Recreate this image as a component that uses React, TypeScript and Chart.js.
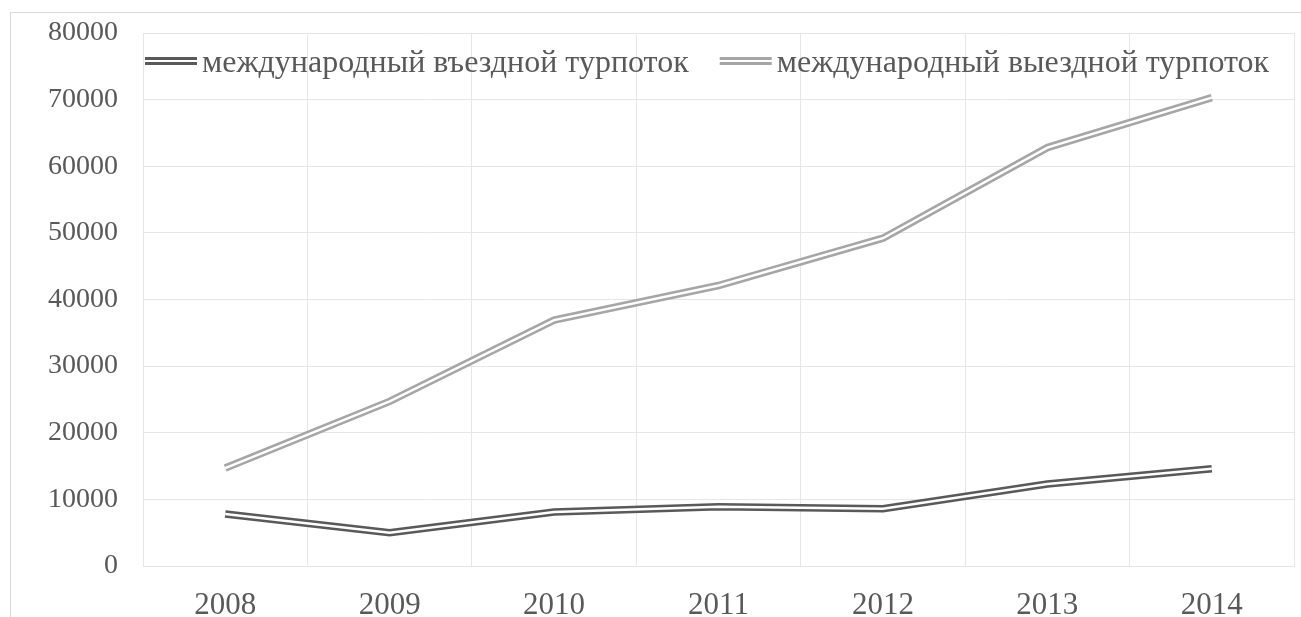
import React, { useEffect, useRef } from 'react';
import { Chart, registerables } from 'chart.js';

Chart.register(...registerables);

const years = ['2008', '2009', '2010', '2011', '2012', '2013', '2014'];
const inboundLabel = 'международный въездной турпоток';
const outboundLabel = 'международный выездной турпоток';
const inbound = [7800, 5000, 8100, 8900, 8600, 12300, 14600];
const outbound = [14700, 24700, 36900, 42100, 49200, 62800, 70300];
const yMin = 0;
const yMax = 80000;
const yStep = 10000;

const DARK = '#595959';
const LIGHT = '#A6A6A6';
const GRID = '#E6E6E6';
const TEXT = '#595959';
const FONT = '"Liberation Serif", "Times New Roman", serif';

const insideLegend = {
  id: 'insideLegend',
  afterDraw(chart: any) {
    const ctx = chart.ctx as CanvasRenderingContext2D;
    const area = chart.chartArea;
    const items = [
      { text: inboundLabel, color: DARK },
      { text: outboundLabel, color: LIGHT },
    ];
    ctx.save();
    ctx.font = `32px ${FONT}`;
    ctx.textBaseline = 'alphabetic';
    ctx.textAlign = 'left';
    let x = area.left + 2;
    const baseY = area.top + 39;
    const swW = 52;
    items.forEach((it) => {
      ctx.fillStyle = it.color;
      ctx.fillRect(x, area.top + 24, swW, 3);
      ctx.fillRect(x, area.top + 29, swW, 3);
      x += swW + 5;
      ctx.fillStyle = TEXT;
      ctx.fillText(it.text, x, baseY);
      x += ctx.measureText(it.text).width + 31;
    });
    ctx.restore();
  },
};

export default function App() {
  const ref = useRef<HTMLCanvasElement | null>(null);

  useEffect(() => {
    if (!ref.current) return;
    const chart = new Chart(ref.current, {
      type: 'line',
      data: {
        labels: years,
        datasets: [
          { label: inboundLabel, data: inbound, borderColor: DARK, borderWidth: 7.5, pointRadius: 0, tension: 0, order: 2 },
          { label: 'gap-in', data: inbound, borderColor: '#FFFFFF', borderWidth: 2.4, pointRadius: 0, tension: 0, order: 1 },
          { label: outboundLabel, data: outbound, borderColor: LIGHT, borderWidth: 7.5, pointRadius: 0, tension: 0, order: 4 },
          { label: 'gap-out', data: outbound, borderColor: '#FFFFFF', borderWidth: 2.4, pointRadius: 0, tension: 0, order: 3 },
        ],
      },
      options: {
        responsive: false,
        animation: false,
        layout: { padding: { left: 0, top: 20, right: 7, bottom: 0 } },
        plugins: {
          legend: { display: false },
          tooltip: { enabled: false },
        },
        scales: {
          x: {
            offset: true,
            grid: { offset: true, color: GRID, drawTicks: false, lineWidth: 1 },
            border: { color: GRID },
            ticks: { color: TEXT, padding: 21, font: { family: FONT, size: 31 } },
            afterFit: (s: any) => {
              s.height = 51;
              s.paddingLeft = 0;
              s.paddingRight = 0;
            },
          },
          y: {
            min: yMin,
            max: yMax,
            grid: { color: GRID, drawTicks: false },
            border: { color: GRID },
            ticks: {
              stepSize: yStep,
              color: TEXT,
              padding: 25,
              font: { family: FONT, size: 28 },
              callback: (v: any) => String(v),
            },
            afterFit: (s: any) => {
              s.width = 132;
              s.paddingTop = 0;
              s.paddingBottom = 0;
            },
          },
        },
      },
      plugins: [insideLegend],
    });
    return () => chart.destroy();
  }, []);

  return (
    <div
      style={{
        position: 'fixed',
        left: 10,
        top: 12,
        width: 1291,
        height: 605,
        boxSizing: 'border-box',
        borderTop: '1px solid #D9D9D9',
        borderLeft: '1px solid #D9D9D9',
        background: '#fff',
      }}
    >
      <canvas ref={ref} width={1290} height={604} style={{ display: 'block', width: 1290, height: 604 }} />
    </div>
  );
}
